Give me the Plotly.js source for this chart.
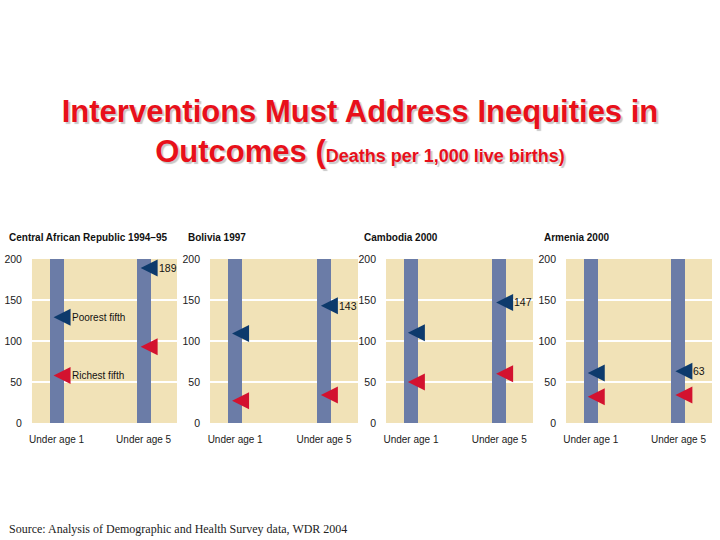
<!DOCTYPE html>
<html>
<head>
<meta charset="utf-8">
<script src="https://cdn.plot.ly/plotly-3.0.1.min.js"></script>
<style>html,body{margin:0;padding:0;background:#fff;}#chart{width:720px;height:540px;}</style>
</head>
<body>
<div id="chart"></div>
<script>
// ---- data ----
const countries = ['Central African Republic 1994\u201395', 'Bolivia 1997', 'Cambodia 2000', 'Armenia 2000'];
const ageGroups = ['Under age 1', 'Under age 5'];
const poorestFifth = [
  [129, 189],
  [109, 143],
  [110, 147],
  [61, 63]
];
const richestFifth = [
  [58, 93],
  [27, 34],
  [50, 60],
  [32, 34]
];
const yTicks = [0, 50, 100, 150, 200];
const labelledPoint = 1; // the under-5 poorest value is labelled
const titleLine1 = 'Interventions Must Address Inequities in';
const titleLine2a = 'Outcomes (';
const titleLine2b = 'Deaths per 1,000 live births)';
const sourceText = 'Source: Analysis of Demographic and Health Survey data, WDR 2004';

// ---- styles ----
const BG = '#f1e2b7';
const BAR = '#6b7ca7';
const NAVY = '#0d3a6c';
const RED = '#d3122f';
const SANS = '"Liberation Sans", Arial, sans-serif';
const domainsX = [[0.0444, 0.2458], [0.2917, 0.4972], [0.5361, 0.7403], [0.7861, 0.9889]];
const domainY = [0.2167, 0.5204];
const ARROW_OFFSET = -0.035;
const yMax = yTicks[yTicks.length - 1];

const traces = [];
const layout = {
  width: 720, height: 540,
  margin: {l: 0, r: 0, t: 0, b: 0},
  paper_bgcolor: '#ffffff',
  plot_bgcolor: BG,
  showlegend: false,
  title: {
    text: titleLine1 + '<br>' + titleLine2a + '<span style="font-size:18px">' + titleLine2b + '</span>',
    x: 0.5, xanchor: 'center', xref: 'paper',
    y: 0.775, yanchor: 'top', yref: 'container',
    font: {family: SANS, size: 31, weight: 'bold', color: '#e8101a', shadow: '2px 2px 1px #c8c8c8'}
  },
  annotations: [],
  bargap: 0
};

countries.forEach((name, k) => {
  const xa = k === 0 ? 'x' : 'x' + (k + 1);
  const ya = k === 0 ? 'y' : 'y' + (k + 1);
  const xKey = k === 0 ? 'xaxis' : 'xaxis' + (k + 1);
  const yKey = k === 0 ? 'yaxis' : 'yaxis' + (k + 1);
  const xIdx = ageGroups.map((_, i) => i);
  const xArrow = xIdx.map(i => i + ARROW_OFFSET);

  traces.push({
    type: 'bar', x: xIdx, y: ageGroups.map(() => yMax), width: 0.16,
    marker: {color: BAR, line: {width: 0}}, xaxis: xa, yaxis: ya, hoverinfo: 'skip'
  });
  traces.push({
    type: 'scatter', mode: 'markers', x: xArrow, y: poorestFifth[k], name: 'Poorest fifth',
    marker: {symbol: 'arrow-left', size: 17, color: NAVY, line: {width: 0}},
    xaxis: xa, yaxis: ya, cliponaxis: false
  });
  traces.push({
    type: 'scatter', mode: 'markers', x: xArrow, y: richestFifth[k], name: 'Richest fifth',
    marker: {symbol: 'arrow-left', size: 17, color: RED, line: {width: 0}},
    xaxis: xa, yaxis: ya, cliponaxis: false
  });

  layout[xKey] = {
    domain: domainsX[k], anchor: ya, range: [-0.283, 1.383],
    tickvals: xIdx, ticktext: ageGroups, showgrid: false, zeroline: false, showline: false,
    ticks: '', ticklabelstandoff: 9,
    tickfont: {family: SANS, size: 10, color: '#1a1a1a'}, fixedrange: true
  };
  layout[yKey] = {
    domain: domainY, anchor: xa, range: [0, yMax], tickvals: yTicks,
    showgrid: true, gridcolor: '#ffffff', gridwidth: 2, zeroline: false, showline: false,
    ticks: '', ticklabelstandoff: 9,
    tickfont: {family: SANS, size: 10.5, color: '#1a1a1a'}, fixedrange: true
  };

  // panel title
  layout.annotations.push({
    text: '<b>' + name + '</b>', xref: 'paper', yref: 'paper',
    x: domainsX[k][0] - (k === 0 ? 0.034 : 0.033), y: domainY[1] + 0.039,
    xanchor: 'left', yanchor: 'middle', showarrow: false,
    font: {family: SANS, size: 10, color: '#111'}
  });
  // value label on the under-5 poorest arrow
  layout.annotations.push({
    text: String(poorestFifth[k][labelledPoint]), xref: xa, yref: ya,
    x: xArrow[labelledPoint], y: poorestFifth[k][labelledPoint],
    xanchor: 'left', yanchor: 'middle', xshift: 16, showarrow: false,
    font: {family: SANS, size: 10.5, color: '#111'}
  });
  if (k === 0) {
    layout.annotations.push({
      text: 'Poorest fifth', xref: xa, yref: ya, x: xArrow[0], y: poorestFifth[k][0],
      xanchor: 'left', yanchor: 'middle', xshift: 16, showarrow: false,
      font: {family: SANS, size: 10, color: '#111'}
    });
    layout.annotations.push({
      text: 'Richest fifth', xref: xa, yref: ya, x: xArrow[0], y: richestFifth[k][0],
      xanchor: 'left', yanchor: 'middle', xshift: 16, showarrow: false,
      font: {family: SANS, size: 10, color: '#111'}
    });
  }
});

layout.annotations.push({
  text: sourceText, xref: 'paper', yref: 'paper', x: 0.0097, y: 1 - 529 / 540,
  xanchor: 'left', yanchor: 'middle', showarrow: false,
  font: {family: '"Liberation Serif", "Times New Roman", serif', size: 12, color: '#222'}
});

Plotly.newPlot('chart', traces, layout, {staticPlot: true, displayModeBar: false});
</script>
</body>
</html>
